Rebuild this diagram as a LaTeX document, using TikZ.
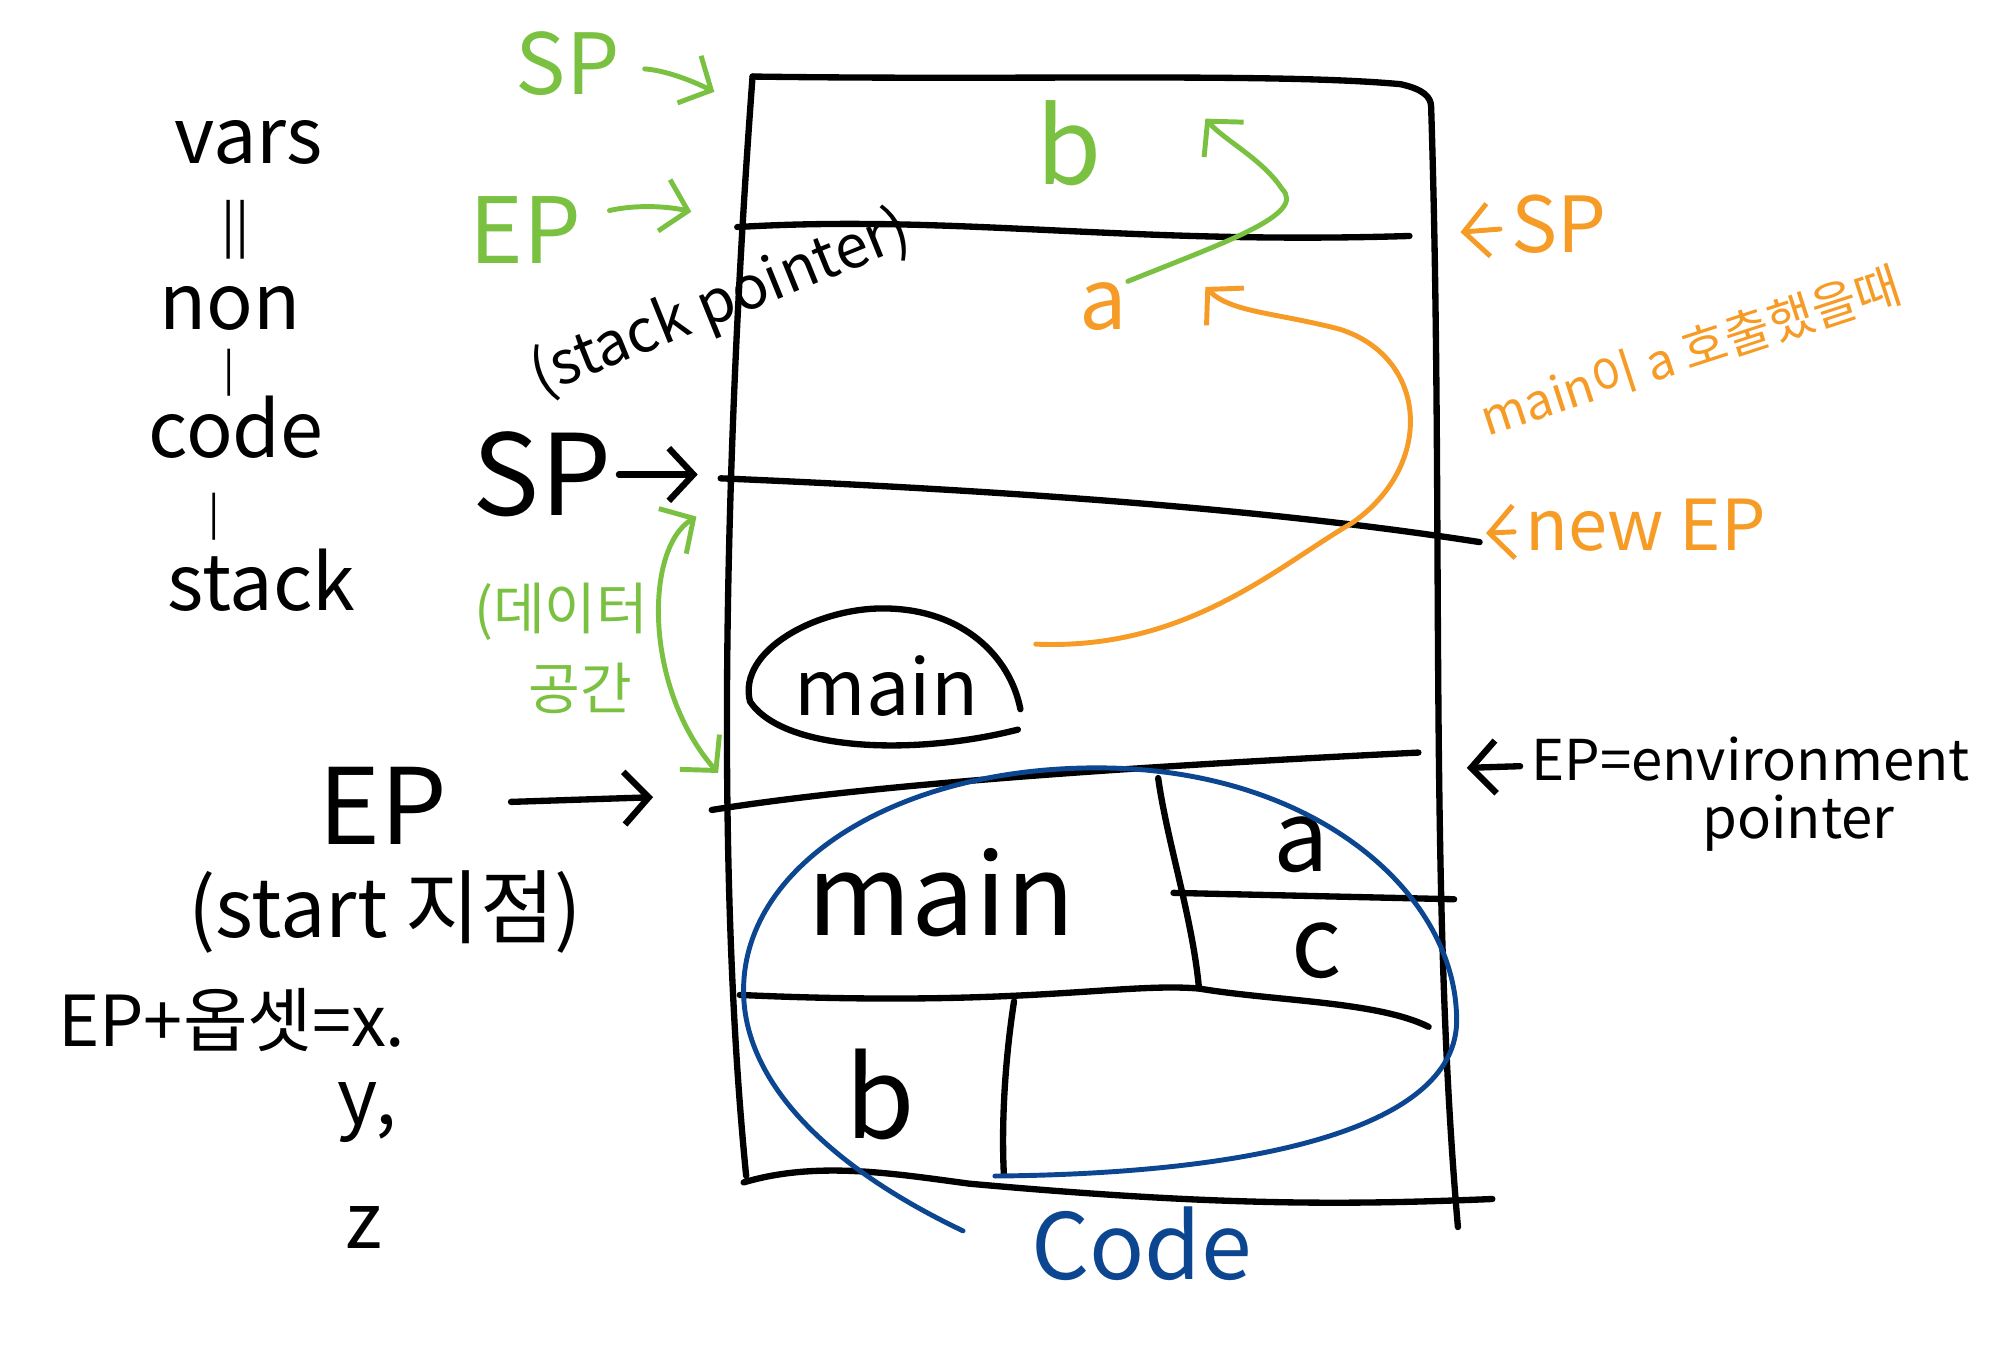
\documentclass[tikz,border=0pt]{standalone}
\usepackage{fontspec}
\setmainfont{Noto Sans CJK KR}
\usetikzlibrary{arrows.meta, positioning}
\definecolor{pengreen}{RGB}{122,193,66}
\definecolor{penorange}{RGB}{245,155,38}
\definecolor{penblue}{RGB}{12,70,145}

\tikzset{
  pen/.style={line width=1.8pt, line cap=round, line join=round},
  cpen/.style={pen, line width=1.4pt},
  hand/.style={inner sep=0pt, font=\fontsize{#1}{#1}\selectfont},
  barb/.style={-{Straight Barb[length=7pt,width=15pt]}},
  twobarb/.style={{Straight Barb[length=7pt,width=15pt]}-{Straight Barb[length=7pt,width=15pt]}},
}

\begin{document}
\begin{tikzpicture}[x=0.01275cm, y=-0.01275cm]
  \useasboundingbox (0,0) rectangle (1568,1075);

  % stack box
  \coordinate (tl) at (590,60);
  \coordinate (tr) at (1122,84);
  \coordinate (br) at (1143,962);
  \coordinate (bl) at (585,922);
  \draw[pen] (tl) .. controls (800,63) and (1000,57) .. (1098,66)
    .. controls (1116,70) and (1122,76) .. (tr)
    .. controls (1132,400) and (1120,700) .. (br);
  \draw[pen] (tl) .. controls (572,300) and (558,650) .. (bl);

  % frame lines
  \coordinate (ep1l) at (578,178);
  \coordinate (ep1r) at (1105,185);
  \draw[pen] (ep1l) .. controls (750,168) and (880,192) .. (ep1r);
  \coordinate (sp2l) at (565,375);
  \coordinate (sp2r) at (1160,425);
  \draw[pen] (sp2l) .. controls (800,385) and (1000,400) .. (sp2r);
  \coordinate (ep2l) at (558,635);
  \coordinate (ep2r) at (1112,590);
  \draw[pen] (ep2l) .. controls (700,612) and (950,598) .. (ep2r);

  % code cells
  \coordinate (midtop) at (908,610);
  \coordinate (midbot) at (940,775);
  \draw[pen] (midtop) .. controls (915,660) and (935,720) .. (midbot);
  \draw[pen] (920,700) -- (1140,705);
  \draw[pen] (580,780) .. controls (800,790) and (880,770) .. (midbot)
    .. controls (1000,785) and (1080,785) .. (1120,805);
  \draw[pen] (795,785) .. controls (788,830) and (785,880) .. (787,920);
  \draw[pen] (583,927) .. controls (640,910) and (700,920) .. (760,928)
    .. controls (950,945) and (1050,945) .. (1170,940);

  % left notes
  \node[hand=22] (vars) at (195,112) {vars};
  \node[hand=15] (eq) at (185,180) {||};
  \node[hand=22] (non) at (180,242) {non};
  \node[hand=12] (bar1) at (180,292) {|};
  \node[hand=22] (code) at (185,335) {code};
  \node[hand=12] (bar2) at (168,405) {|};
  \node[hand=22] (stack) at (205,455) {stack};

  % green: after the call
  \node[hand=24, pengreen] (gsp) at (445,50) {SP};
  \node[hand=26, pengreen] (gep) at (412,180) {EP};
  \node[hand=30, pengreen] (gb) at (838,112) {b};
  \node[hand=16, pengreen] (gdata) at (440,480) {(데이터};
  \node[hand=16, pengreen] (gspace) at (455,540) {공간};
  \coordinate (gsptip) at (560,72);
  \coordinate (geptip) at (542,166);
  \coordinate (dtop) at (546,405);
  \coordinate (dbot) at (563,606);
  \coordinate (btip) at (945,93);
  \draw[cpen, pengreen, barb, shorten <=7pt] (gsp) .. controls (520,55) and (540,62) .. (gsptip);
  \draw[cpen, pengreen, barb, shorten <=8pt] (gep) .. controls (500,160) and (525,162) .. (geptip);
  \draw[cpen, pengreen, twobarb] (dbot) .. controls (505,540) and (505,430) .. (dtop);

  % orange: main calls a
  \node[hand=24, penorange] (oa) at (865,240) {a};
  \node[hand=22, penorange] (osp) at (1222,176) {SP};
  \node[hand=14, penorange, rotate=18] (ocall) at (1325,275) {main이 a 호출했을때};
  \node[hand=20, penorange] (onew) at (1290,412) {new EP};
  \coordinate (osptip) at (1145,182);
  \coordinate (onewtip) at (1165,418);
  \coordinate (callstart) at (812,505);
  \coordinate (atip) at (945,225);
  \draw[cpen, penorange, barb, shorten <=3pt] (osp) -- (osptip);
  \draw[cpen, penorange, barb, shorten <=3pt] (onew) -- (onewtip);
  \draw[cpen, penorange, barb] (callstart) .. controls (930,510) and (1000,445) .. (1060,410)
    .. controls (1125,365) and (1120,280) .. (1050,258)
    .. controls (1000,245) and (965,245) .. (atip);
  \draw[cpen, pengreen, barb] (oa.north east) .. controls (960,190) and (1025,168) .. (1005,148)
    .. controls (990,125) and (960,110) .. (btip);

  % black pointers
  \node[hand=17, rotate=22] (sptext) at (565,238) {(stack pointer)};
  \node[hand=32] (bsp) at (425,372) {SP};
  \node[hand=30] (bep) at (300,632) {EP};
  \node[hand=23] (start) at (302,715) {(start 지점)};
  \node[hand=20, anchor=west] (offset) at (45,800) {EP+옵셋=x.};
  \node[hand=22] (yy) at (288,872) {y,};
  \node[hand=22] (zz) at (285,962) {z};
  \coordinate (bsptip) at (547,372);
  \coordinate (beptip) at (512,625);
  \draw[pen, barb, shorten <=2pt] (bsp) -- (bsptip);
  \draw[pen, barb, shorten <=18pt] (bep) -- (beptip);

  % frames of main
  \node[hand=22] (mainsm) at (695,538) {main};
  \draw[pen] (798,572) .. controls (720,592) and (615,590) .. (588,550)
    .. controls (578,510) and (640,477) .. (692,477)
    .. controls (755,477) and (792,515) .. (800,556);
  \node[hand=32] (mainbig) at (738,700) {main};
  \node[hand=28] (ca) at (1020,662) {a};
  \node[hand=28] (cc) at (1032,745) {c};
  \node[hand=32] (cb) at (690,858) {b};

  % environment pointer note
  \node[hand=16, anchor=west] (envtext) at (1200,595) {EP=environment};
  \node[hand=16] (ptrtext) at (1410,645) {pointer};
  \coordinate (envtip) at (1150,602);
  \draw[pen, barb, shorten <=3pt] (envtext) -- (envtip);

  % code area
  \draw[cpen, penblue] (755,965) .. controls (650,915) and (585,850) .. (583,780)
    .. controls (580,680) and (700,602) .. (860,602)
    .. controls (1030,602) and (1142,700) .. (1142,800)
    .. controls (1142,880) and (1000,920) .. (780,922);
  \node[hand=26, penblue] (codelbl) at (895,975) {Code};
\end{tikzpicture}
\end{document}
